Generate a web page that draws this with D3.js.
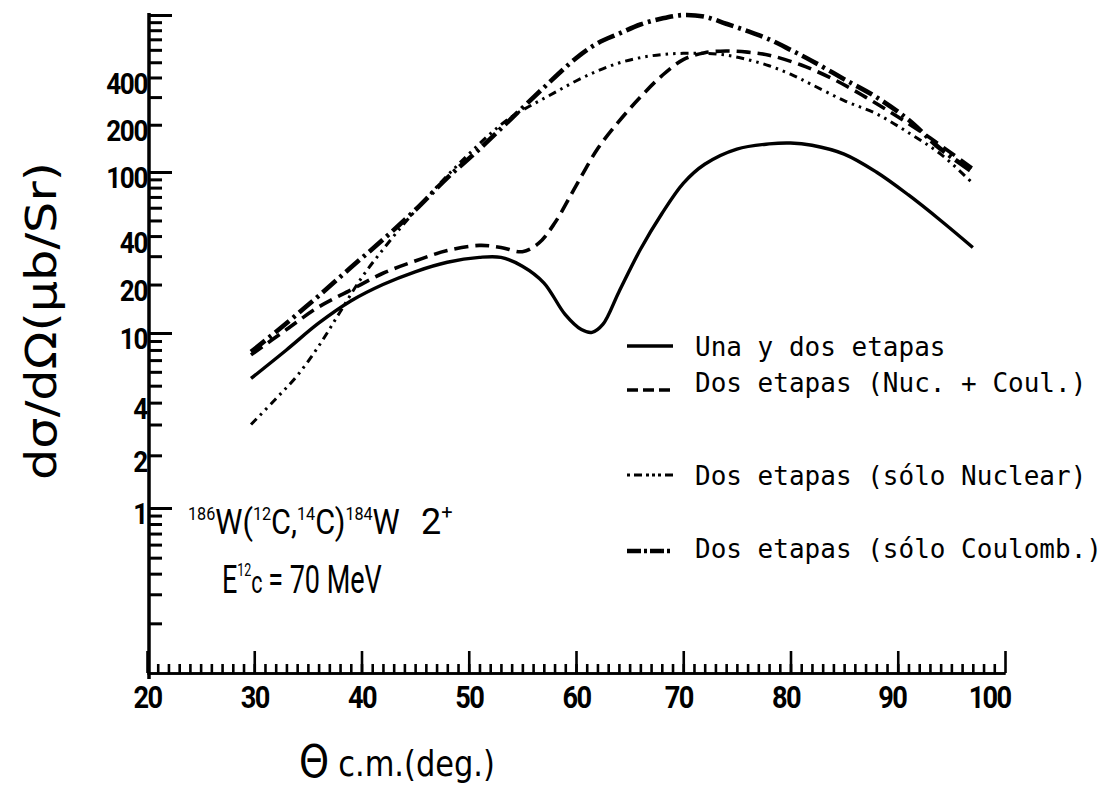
<!DOCTYPE html>
<html>
<head>
<meta charset="utf-8">
<script src="https://cdn.jsdelivr.net/npm/d3@7"></script>
<style>
  html, body { margin: 0; padding: 0; background: #fff; }
  svg { display: block; }
  .tick text { fill: #000; }
</style>
</head>
<body>
<svg id="chart" width="1113" height="791"></svg>
<script>
// Differential cross sections for 186W(12C,14C)184W (2+), E = 70 MeV
// Angles in degrees (c.m.), cross sections in microbarn / sr.

// One- and two-step calculation (solid)
const angleUna = [29.7, 33, 36, 39, 42, 45, 48, 51, 53, 55, 57, 59, 60.5, 61.5, 62.5, 64, 66, 68, 70, 72, 75, 78, 80, 82, 85, 88, 91, 94, 97];
const sigmaUna = [5.5, 8.0, 11.5, 15.8, 20, 24, 27.5, 29.5, 29.5, 26, 20.5, 13, 10.5, 10.1, 11.3, 18, 33, 55, 85, 112, 140, 151, 153, 148, 130, 100, 72, 50, 34];

// Two-step, nuclear + Coulomb (dashed)
const angleNucCoul = [29.7, 33, 36, 39, 42, 45, 48, 51, 53, 55, 56.5, 58, 60, 62, 64, 66, 68, 70, 72, 74, 76, 78, 81, 84, 87, 90, 93, 97];
const sigmaNucCoul = [7.5, 10.5, 14.5, 18.5, 23.5, 28, 32.5, 35, 34, 32, 36, 48, 82, 140, 210, 300, 410, 520, 575, 590, 580, 555, 480, 390, 300, 225, 165, 105];

// Two-step, nuclear only (dash-dot-dot)
const angleNuclear = [29.7, 32, 34, 36, 38, 40, 42, 44, 46, 48, 50, 52, 54, 56, 58, 60, 62, 64, 66, 68, 70, 72, 74, 76, 78, 80, 82, 85, 88, 91, 94, 97];
const sigmaNuclear = [3.0, 4.2, 5.7, 8.4, 13.5, 22, 33, 48, 68, 95, 130, 175, 225, 270, 320, 380, 440, 495, 535, 560, 570, 570, 555, 520, 475, 420, 360, 285, 235, 178, 130, 85];

// Two-step, Coulomb only (heavy dash-dot)
const angleCoulomb = [29.7, 33, 36, 39, 42, 45, 48, 51, 54, 57, 60, 62, 64, 66, 68, 70, 72, 74, 76, 78, 80, 82, 85, 88, 91, 94, 97];
const sigmaCoulomb = [7.8, 11.5, 17, 25.5, 38, 58, 92, 140, 220, 345, 530, 660, 760, 870, 950, 1000, 975, 880, 790, 700, 600, 510, 390, 300, 215, 140, 100];

const yTickLabels = [400, 200, 100, 40, 20, 10, 4, 2, 1];
const xTickLabels = [20, 30, 40, 50, 60, 70, 80, 90, 100];
const legendLabels = [
  "Una y dos etapas",
  "Dos etapas (Nuc. + Coul.)",
  "Dos etapas (sólo Nuclear)",
  "Dos etapas (sólo Coulomb.)"
];

const svg = d3.select("#chart");
const labelFont = "Roboto, 'DejaVu Sans', sans-serif";

// Horizontal: angle; vertical: logarithmic, one segment per decade
const x = d3.scaleLinear().domain([20, 100]).range([147, 1005]);
const y = d3.scaleLog().domain([0.1, 1, 10, 100, 1000]).range([673, 508, 333, 172, 15]);

// Squeeze a text group horizontally so it spans the given width
function fitWidth(g, left, baseline, width) {
  const w = g.node().getBBox().width;
  g.attr("transform", `translate(${left},${baseline}) scale(${width / w},1)`);
}

// ---- vertical axis ----
const decades = [0.1, 1, 10, 100];
const yMinor = [];
decades.forEach(d => { for (let k = 2; k <= 9; k++) yMinor.push(+(k * d).toPrecision(3)); });

const yAxisG = svg.append("g").attr("transform", "translate(149,0)");
yAxisG.append("g")
  .call(d3.axisRight(y).tickValues(yMinor).tickSize(13).tickSizeOuter(0).tickFormat(""));
yAxisG.append("g")
  .call(d3.axisRight(y).tickValues([1, 10, 100, 1000]).tickSize(23).tickSizeOuter(0).tickFormat(""));
yAxisG.selectAll("path, line").attr("stroke", "#000").attr("stroke-width", 3);
yAxisG.selectAll(".domain").attr("d", `M0,${y(0.1) + 6}V${y(1000) - 2}`);

svg.append("g")
  .attr("transform", "translate(147,0)")
  .call(d3.axisLeft(y).tickValues(yTickLabels).tickSize(0).tickPadding(0).tickFormat(d3.format("d")))
  .call(g => g.select(".domain").remove())
  .selectAll("text")
  .attr("font-family", labelFont)
  .attr("font-weight", 700)
  .attr("font-size", 29)
  .attr("letter-spacing", -1.5)
  .attr("transform", "scale(0.9,1)")
  .attr("dy", "0.55em");

// ---- horizontal axis ----
const xAxisG = svg.append("g").attr("transform", `translate(0,${y(0.1)})`);
xAxisG.append("g")
  .call(d3.axisBottom(x).tickValues(d3.range(21, 100)).tickSize(-9).tickSizeOuter(0).tickFormat(""));
xAxisG.append("g")
  .call(d3.axisBottom(x).tickValues(xTickLabels).tickSize(-22).tickSizeOuter(0).tickFormat(""));
xAxisG.selectAll("path, line").attr("stroke", "#000").attr("stroke-width", 2.6);

// hand-lettered labels drift slightly left toward the right end of the axis
const xLabelShift = d => d >= 100 ? -16 : d >= 90 ? -6 : d >= 70 ? -5 : 0;
svg.append("g")
  .attr("transform", `translate(0,${y(0.1) + 12})`)
  .call(d3.axisBottom(x).tickValues(xTickLabels).tickSize(0).tickPadding(0).tickFormat(d3.format("d")))
  .call(g => g.select(".domain").remove())
  .selectAll("text")
  .attr("font-family", labelFont)
  .attr("font-weight", 700)
  .attr("font-size", 32)
  .attr("letter-spacing", -2)
  .attr("transform", d => `translate(${xLabelShift(d)},0) scale(0.85,1)`);

// ---- axis titles ----
svg.append("text")
  .attr("transform", "translate(56,321) rotate(-90)")
  .attr("text-anchor", "middle")
  .attr("font-family", "'DejaVu Sans', sans-serif")
  .attr("font-size", 42)
  .attr("textLength", 318)
  .attr("lengthAdjust", "spacingAndGlyphs")
  .text("dσ/dΩ(μb/Sr)");

const xTitle = svg.append("g");
xTitle.append("text")
  .attr("x", 0).attr("y", 0)
  .attr("font-family", "'DejaVu Sans', sans-serif")
  .attr("font-size", 44)
  .text("Θ");
xTitle.append("text")
  .attr("x", 45).attr("y", -1)
  .attr("font-family", "'DejaVu Sans', sans-serif")
  .attr("font-size", 35)
  .text("c.m.(deg.)");
fitWidth(xTitle, 299, 777, 196);

// ---- curves ----
const line = d3.line()
  .x(d => x(d[0]))
  .y(d => y(d[1]))
  .curve(d3.curveCatmullRom.alpha(0.5));

const series = [
  { angles: angleUna,     sigma: sigmaUna,     width: 3.4, dash: null },
  { angles: angleNucCoul, sigma: sigmaNucCoul, width: 3.6, dash: "14,7" },
  { angles: angleNuclear, sigma: sigmaNuclear, width: 3.0, dash: "8,5,2.5,5,2.5,5" },
  { angles: angleCoulomb, sigma: sigmaCoulomb, width: 4.6, dash: "18,5,3,5" }
];

svg.append("g").attr("fill", "none").attr("stroke", "#000")
  .selectAll("path")
  .data(series)
  .join("path")
  .attr("d", s => line(d3.zip(s.angles, s.sigma)))
  .attr("stroke-width", s => s.width)
  .attr("stroke-dasharray", s => s.dash)
  .attr("stroke-linecap", "butt");

// ---- legend ----
const legendRows = [
  { y: 347, sampleY: 346, width: 3.4, dash: null },
  { y: 383, sampleY: 390, width: 3.6, dash: "11,5" },
  { y: 476, sampleY: 475, width: 3.0, dash: "3,4,8,4,3,3,3,3" },
  { y: 549, sampleY: 551, width: 4.4, dash: "14,3,3,3" }
];
const legend = svg.append("g");
legend.selectAll("line")
  .data(legendRows)
  .join("line")
  .attr("x1", 627).attr("x2", 673)
  .attr("y1", d => d.sampleY).attr("y2", d => d.sampleY)
  .attr("stroke", "#000")
  .attr("stroke-width", d => d.width)
  .attr("stroke-dasharray", d => d.dash);
legend.selectAll("text")
  .data(legendRows)
  .join("text")
  .attr("x", 695)
  .attr("y", d => d.y)
  .attr("dy", "0.35em")
  .attr("font-family", "'DejaVu Sans Mono', monospace")
  .attr("font-size", 26)
  .text((d, i) => legendLabels[i]);

// ---- reaction annotation ----
const noteG = svg.append("g");
const note = noteG.append("text")
  .attr("font-family", labelFont)
  .attr("font-size", 36);
const sup = (t) => note.append("tspan").attr("font-size", 19).attr("dy", -14).text(t);
const base = (t) => note.append("tspan").attr("dy", 14).text(t);
sup("186"); base("W(");
sup("12"); base("C,");
sup("14"); base("C)");
sup("184"); base("W");
fitWidth(noteG, 188, 534, 212);

const spin = svg.append("text")
  .attr("x", 421).attr("y", 534)
  .attr("font-family", labelFont)
  .attr("font-size", 36);
spin.append("tspan").text("2");
spin.append("tspan").attr("font-size", 20).attr("dy", -15).text("+");

const energyG = svg.append("g");
const energy = energyG.append("text")
  .attr("font-family", labelFont)
  .attr("font-size", 39);
energy.append("tspan").text("E");
energy.append("tspan").attr("font-size", 18).attr("dy", -17).text("12");
energy.append("tspan").attr("font-size", 31).attr("dy", 17).text("c");
energy.append("tspan").attr("dx", 8).text("= 70 MeV");
fitWidth(energyG, 222, 593, 160);
</script>
</body>
</html>
